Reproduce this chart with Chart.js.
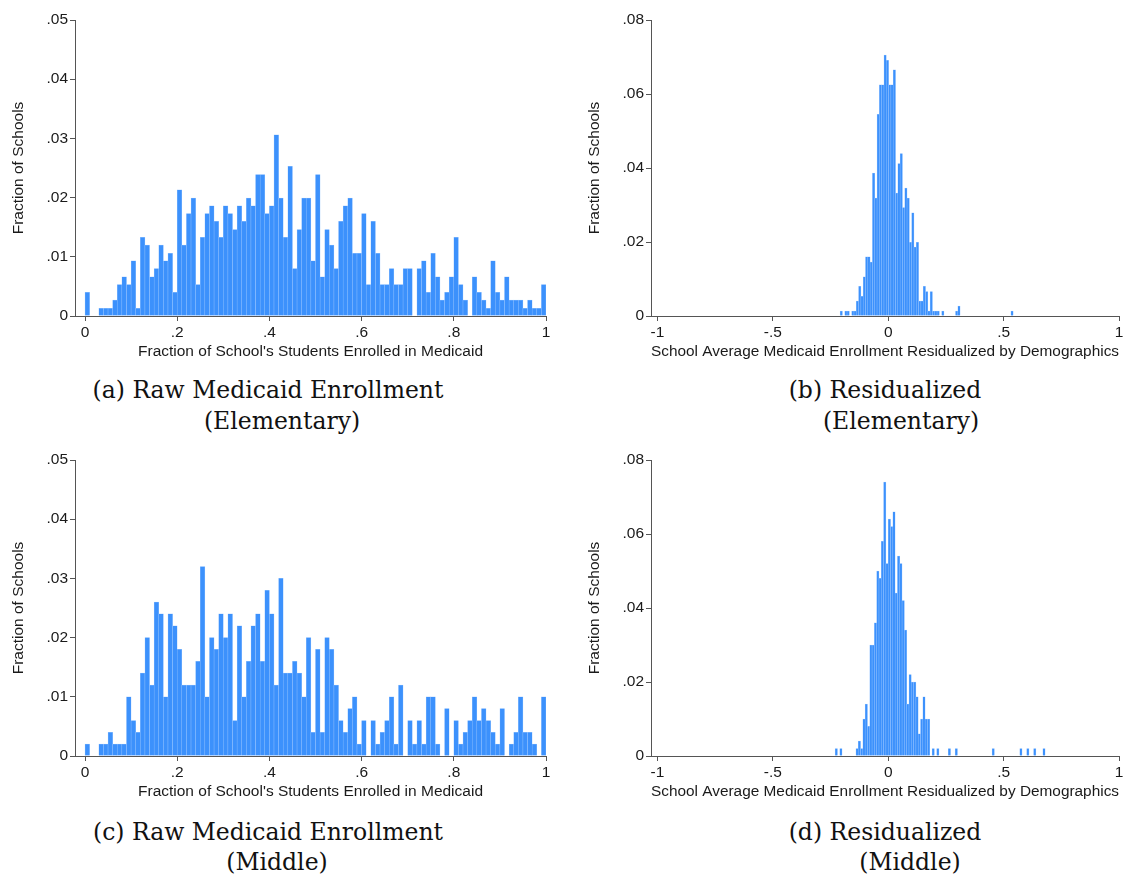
<!DOCTYPE html>
<html>
<head>
<meta charset="UTF-8">
<title>Medicaid Enrollment Across Schools</title>
<style>
  body { margin: 0; background: #fff; }
  #page { position: relative; width: 1127px; height: 875px; overflow: hidden; }
  #page canvas { position: absolute; }
  .cap { position: absolute; width: 420px; text-align: center; white-space: nowrap;
         font-family: 'DejaVu Serif', serif; font-size: 23.5px; color: #111; line-height: 28px; }
</style>
</head>
<body>
<div id="page">
  <canvas id="rawElem" width="560" height="365" style="left:0;top:0"></canvas>
  <canvas id="resElem" width="551" height="365" style="left:576px;top:0"></canvas>
  <canvas id="rawMid"  width="560" height="365" style="left:0;top:440px"></canvas>
  <canvas id="resMid"  width="551" height="365" style="left:576px;top:440px"></canvas>

  <div class="cap" style="left:58px;top:376px">(a) Raw Medicaid Enrollment</div>
  <div class="cap" style="left:72px;top:407px">(Elementary)</div>
  <div class="cap" style="left:675px;top:376px">(b) Residualized</div>
  <div class="cap" style="left:691px;top:407px">(Elementary)</div>
  <div class="cap" style="left:58px;top:818px">(c) Raw Medicaid Enrollment</div>
  <div class="cap" style="left:67px;top:848px">(Middle)</div>
  <div class="cap" style="left:675px;top:818px">(d) Residualized</div>
  <div class="cap" style="left:700px;top:848px">(Middle)</div>
</div>

<script src="https://cdn.jsdelivr.net/npm/chart.js"></script>
<script>
  // raw share panels: 100 bins of width .01 starting at 0
  const rawBinStart = 0;
  const rawBinWidth = 0.01;

  const rawElemFrac = [
    .0040, 0, 0, .0013, .0013, .0013, .0027, .0053, .0066, .0053,
    .0093, .0013, .0133, .0120, .0066, .0080, .0120, .0093, .0106, .0040,
    .0213, .0120, .0173, .0199, .0053, .0133, .0173, .0186, .0160, .0133,
    .0186, .0173, .0146, .0186, .0160, .0199, .0186, .0239, .0239, .0173,
    .0186, .0306, .0199, .0133, .0253, .0080, .0146, .0199, .0199, .0093,
    .0239, .0066, .0146, .0120, .0080, .0160, .0186, .0199, .0106, .0106,
    .0173, .0053, .0160, .0106, .0053, .0053, .0080, .0053, .0053, .0080,
    .0080, 0, .0080, .0093, .0040, .0106, .0066, .0027, .0040, .0066,
    .0133, .0053, .0027, 0, .0066, .0040, .0027, .0013, .0093, .0040,
    .0027, .0066, .0027, .0027, .0027, .0013, .0027, .0013, .0013, .0053
  ];

  const rawMidFrac = [
    .002, 0, 0, .002, .002, .004, .002, .002, .002, .010,
    .006, .004, .014, .020, .012, .026, .024, .010, .024, .022,
    .018, .012, .012, .012, .016, .032, .010, .020, .018, .024,
    .020, .024, .006, .022, .010, .016, .022, .024, .016, .028,
    .024, .012, .030, .014, .014, .016, .014, .010, .020, .004,
    .018, .004, .020, .018, .012, .006, .004, .008, .010, .002,
    .006, 0, .006, .002, .004, .006, .010, .002, .012, 0,
    .006, .002, .006, .002, .010, .010, .002, 0, .008, 0,
    .006, .002, .004, .006, .010, .006, .008, .006, .004, .002,
    .008, 0, .002, .004, .010, .004, .004, .002, 0, .010
  ];

  // residualized panels: bin centres (empty bins left out) and fractions
  const resElemX = [
    -.2034, -.1834, -.1734, -.1534, -.1434, -.1334, -.1234, -.1134, -.1034, -.0934,
    -.0834, -.0734, -.0634, -.0534, -.0434, -.0334, -.0234, -.0134, -.0034, .0066,
    .0166, .0266, .0366, .0466, .0566, .0666, .0766, .0866, .0966, .1066,
    .1166, .1266, .1366, .1466, .1566, .1666, .1766, .1866, .1966, .2066,
    .2166, .2366, .2966, .3066, .5366
  ];
  const resElemFrac = [
    .0013, .0013, .0013, .0013, .0013, .0040, .0080, .0053, .0106, .0160,
    .0160, .0146, .0386, .0319, .0545, .0625, .0625, .0705, .0691, .0625,
    .0625, .0665, .0332, .0412, .0439, .0293, .0346, .0319, .0199, .0279,
    .0186, .0199, .0040, .0040, .0080, .0066, .0013, .0066, .0013, .0013,
    .0013, .0013, .0013, .0027, .0013
  ];

  const resMidX = [
    -.225, -.205, -.135, -.125, -.115, -.105, -.095, -.085, -.075, -.065,
    -.055, -.045, -.035, -.025, -.015, -.005, .005, .015, .025, .035,
    .045, .055, .065, .075, .085, .095, .105, .115, .125, .135,
    .145, .155, .165, .175, .195, .215, .265, .295, .455, .575,
    .605, .635, .675
  ];
  const resMidFrac = [
    .002, .002, .002, .004, .002, .010, .014, .008, .030, .030,
    .036, .050, .048, .058, .074, .052, .064, .062, .066, .044,
    .054, .052, .042, .034, .014, .022, .020, .020, .016, .006,
    .010, .016, .010, .010, .002, .002, .002, .002, .002, .002,
    .002, .002, .002
  ];

  const rawTicksX = [0, .2, .4, .6, .8, 1];
  const rawLabelsX = ['0', '.2', '.4', '.6', '.8', '1'];
  const rawTicksY = [0, .01, .02, .03, .04, .05];
  const rawLabelsY = ['0', '.01', '.02', '.03', '.04', '.05'];
  const resTicksX = [-1, -.5, 0, .5, 1];
  const resLabelsX = ['-1', '-.5', '0', '.5', '1'];
  const resTicksY = [0, .02, .04, .06, .08];
  const resLabelsY = ['0', '.02', '.04', '.06', '.08'];

  const barFill = 'rgb(60,145,252)';
  const barEdge = 'rgb(150,196,255)';
  const axisColor = '#555';
  const textColor = '#1a1a1a';
  const axisFont = { family: "'Liberation Sans', Arial, sans-serif", size: 15.5 };

  const rawCenters = rawElemFrac.map((_, i) => rawBinStart + rawBinWidth * (i + 0.5));

  function histogram(id, xs, ys, cfg) {
    const points = xs.map((x, i) => ({ x: x, y: ys[i] }));
    return new Chart(document.getElementById(id), {
      type: 'bar',
      data: {
        datasets: [{
          data: points,
          backgroundColor: barFill,
          borderColor: barEdge,
          borderWidth: 0.5,
          borderSkipped: 'bottom',
          barPercentage: 1,
          categoryPercentage: 1
        }]
      },
      options: {
        responsive: false,
        animation: false,
        devicePixelRatio: 1,
        layout: { padding: { top: 20, right: cfg.padRight, bottom: 0, left: 0 } },
        plugins: { legend: { display: false }, tooltip: { enabled: false } },
        scales: {
          x: {
            type: 'linear',
            bounds: 'data',
            offset: false,
            min: cfg.xMin,
            max: cfg.xMax,
            afterBuildTicks: s => { s.ticks = cfg.xTicks.map(v => ({ value: v })); },
            afterFit: s => { s.height = 49; },
            grid: { offset: false, drawOnChartArea: false, tickLength: 5, color: axisColor },
            border: { color: axisColor },
            ticks: {
              font: axisFont, color: textColor, padding: 2,
              maxRotation: 0, autoSkip: false,
              callback: (v, i) => cfg.xLabels[i]
            },
            title: {
              display: true, text: cfg.xTitle, font: axisFont, color: textColor,
              padding: { top: 0, bottom: 3.5 }
            }
          },
          y: {
            type: 'linear',
            bounds: 'data',
            min: 0,
            max: cfg.yMax,
            afterBuildTicks: s => { s.ticks = cfg.yTicks.map(v => ({ value: v })); },
            afterFit: s => { s.width = 75; },
            grid: { drawOnChartArea: false, tickLength: 5, color: axisColor },
            border: { color: axisColor },
            ticks: {
              font: axisFont, color: textColor, padding: 2,
              callback: (v, i) => cfg.yLabels[i]
            },
            title: {
              display: true, text: 'Fraction of Schools', font: axisFont, color: textColor,
              padding: { top: 9, bottom: 0 }
            }
          }
        }
      }
    });
  }

  const rawTitle = "Fraction of School's Students Enrolled in Medicaid";
  const resTitle = 'School Average Medicaid Enrollment Residualized by Demographics';

  const rawCfg = {
    xMin: -0.0217, xMax: 1, padRight: 14, xTicks: rawTicksX, xLabels: rawLabelsX,
    yMax: 0.05, yTicks: rawTicksY, yLabels: rawLabelsY, xTitle: rawTitle
  };
  const resCfg = {
    xMin: -1.028, xMax: 1, padRight: 8, xTicks: resTicksX, xLabels: resLabelsX,
    yMax: 0.08, yTicks: resTicksY, yLabels: resLabelsY, xTitle: resTitle
  };

  histogram('rawElem', rawCenters, rawElemFrac, rawCfg);
  histogram('resElem', resElemX, resElemFrac, resCfg);
  histogram('rawMid', rawCenters, rawMidFrac, rawCfg);
  histogram('resMid', resMidX, resMidFrac, resCfg);
</script>
</body>
</html>
